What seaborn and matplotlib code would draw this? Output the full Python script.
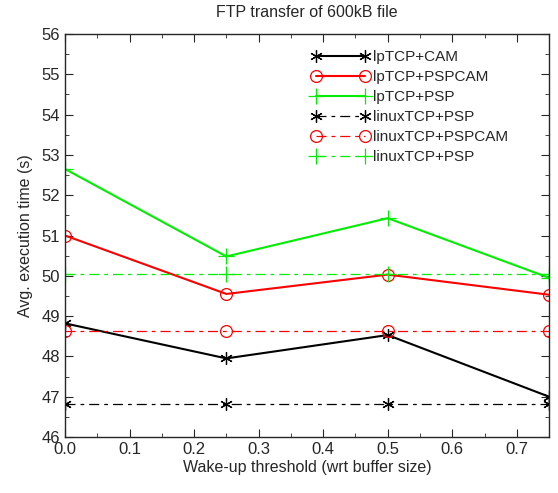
import numpy as np
import pandas as pd
import matplotlib
matplotlib.use("Agg")
import matplotlib.pyplot as plt
from matplotlib.ticker import MultipleLocator
import seaborn as sns

# data
threshold = [0.0, 0.25, 0.5, 0.75]
lp_cam = [48.82, 47.95, 48.53, 47.0]
lp_pspcam = [51.0, 49.55, 50.03, 49.53]
lp_psp = [52.65, 50.48, 51.43, 49.95]
linux_psp = [46.82, 46.82, 46.82, 46.82]
linux_pspcam = [48.62, 48.62, 48.62, 48.62]
linux_psp2 = [50.05, 50.05, 50.05, 50.05]

dashdot = (0, (8, 4, 3, 4))
series = [
    ("lpTCP+CAM", lp_cam, "black", "-", (6, 2, 0)),
    ("lpTCP+PSPCAM", lp_pspcam, "red", "-", "o"),
    ("lpTCP+PSP", lp_psp, "#00ee00", "-", "+"),
    ("linuxTCP+PSP", linux_psp, "black", dashdot, (6, 2, 0)),
    ("linuxTCP+PSPCAM", linux_pspcam, "red", dashdot, "o"),
    ("linuxTCP+PSP ", linux_psp2, "#00ee00", dashdot, "+"),
]
msize = {"o": 8.5, "+": 11}

sns.set_style("ticks")
plt.rcParams['font.family'] = ['Liberation Sans', 'DejaVu Sans']

fig = plt.figure(figsize=(5.58, 4.93), dpi=100)
ax = fig.add_axes([0.1165, 0.1136, 0.8675, 0.8174])

for name, vals, col, ls, mk in series:
    df = pd.DataFrame({"x": threshold, "y": vals})
    sns.lineplot(data=df, x="x", y="y", ax=ax, color=col, linestyle=ls,
                 marker=mk, markersize=msize.get(mk, 9),
                 markerfacecolor="none", markeredgecolor=col,
                 markeredgewidth=0.9, linewidth=1.5 if ls == "-" else 0.9,
                 label=name.strip())

ax.set_xlim(0, 0.75)
ax.set_ylim(46, 56)
ax.xaxis.set_major_locator(MultipleLocator(0.1))
ax.xaxis.set_minor_locator(MultipleLocator(0.05))
ax.yaxis.set_major_locator(MultipleLocator(1))
ax.yaxis.set_minor_locator(MultipleLocator(0.5))
ax.tick_params(which="both", direction="in", top=True, right=True, labelsize=12)
ax.tick_params(which="major", length=6)
ax.tick_params(which="minor", length=3)
for s in ax.spines.values():
    s.set_linewidth(1.0)

ax.set_xlabel("Wake-up threshold (wrt buffer size)", fontsize=11.5, labelpad=2)
ax.set_ylabel("Avg. execution time (s)", fontsize=11.5, labelpad=6)
ax.set_title("FTP transfer of 600kB file", fontsize=11.5, pad=12)

leg = ax.legend(loc="upper left", bbox_to_anchor=(0.51, 0.96), frameon=False,
                fontsize=11, numpoints=2, handlelength=3.75, handletextpad=0.25,
                labelspacing=0.39, borderaxespad=0, borderpad=0)

fig.savefig("out.png", dpi=100)
